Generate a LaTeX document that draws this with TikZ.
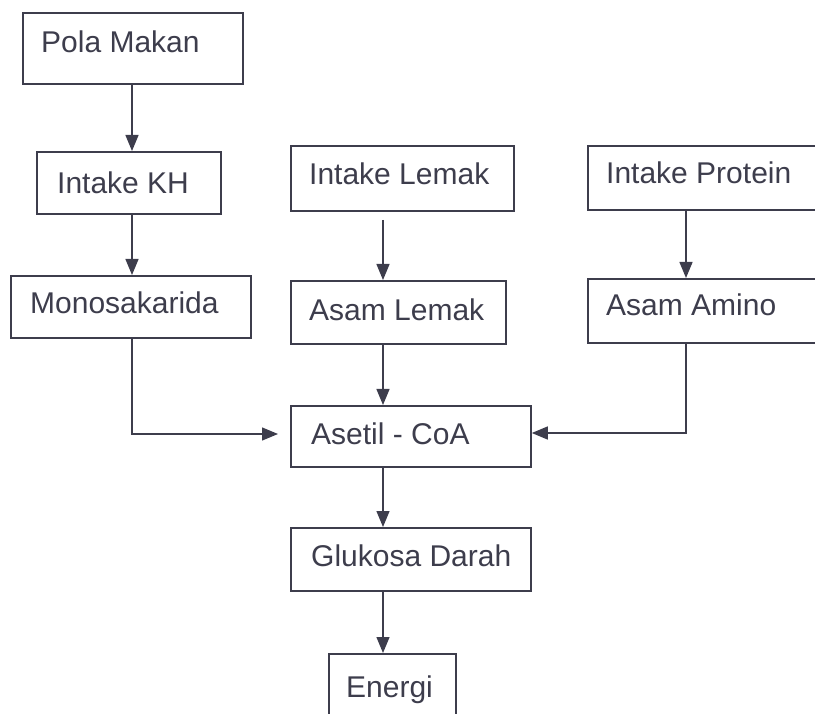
\documentclass[tikz,border=0pt]{standalone}
\usepackage{fontspec}
\setmainfont{Liberation Sans}
\usetikzlibrary{arrows.meta}
\definecolor{ink}{rgb}{0.24,0.24,0.30}
\tikzset{
  box/.style={draw=ink, line width=1.8pt, inner sep=0pt, anchor=north west},
  lbl/.style={anchor=base west, inner sep=0pt, text=ink, font=\fontsize{30}{32}\selectfont},
  conn/.style={draw=ink, line width=1.4pt, -{Triangle[width=13pt,length=16pt]}}
}
\begin{document}
\begin{tikzpicture}[x=1pt,y=-1pt]
\useasboundingbox (0,0) rectangle (815,714);
\clip (0,0) rectangle (815,714);
% boxes
\node[box, minimum width=220, minimum height=71] (pm) at (22,12) {};
\node[box, minimum width=184, minimum height=62] (kh) at (36,151) {};
\node[box, minimum width=240, minimum height=62] (mono) at (10,275) {};
\node[box, minimum width=223, minimum height=65] (il) at (290,145) {};
\node[box, minimum width=215, minimum height=63] (al) at (290,280) {};
\node[box, minimum width=250, minimum height=64] (ip) at (587,145) {};
\node[box, minimum width=250, minimum height=64] (aa) at (587,278) {};
\node[box, minimum width=240, minimum height=61] (ac) at (290,405) {};
\node[box, minimum width=240, minimum height=63] (gd) at (290,527) {};
\node[box, minimum width=127, minimum height=80] (en) at (328,653) {};
% labels
\node[lbl] (tpm) at (41,53) {Pola Makan};
\node[lbl] (tkh) at (57,194) {Intake KH};
\node[lbl] (tmono) at (30,314) {Monosakarida};
\node[lbl] (til) at (309,185) {Intake Lemak};
\node[lbl] (tal) at (309,321) {Asam Lemak};
\node[lbl] (tip) at (606,184) {Intake Protein};
\node[lbl] (taa) at (606,316) {Asam Amino};
\node[lbl] (tac) at (311,445) {Asetil - CoA};
\node[lbl] (tgd) at (311,566) {Glukosa Darah};
\node[lbl] (ten) at (346,697) {Energi};
% connectors
\coordinate (c1) at (132,434);
\coordinate (c2) at (686,433);
\draw[conn] (pm.south -| 132,0) -- (kh.north -| 132,0);
\draw[conn] (kh.south -| 132,0) -- (mono.north -| 132,0);
\draw[conn, shorten <=8pt] (il.south -| 383,0) -- (al.north -| 383,0);
\draw[conn] (ip.south -| 686,0) -- (aa.north -| 686,0);
\draw[conn] (al.south -| 383,0) -- (ac.north -| 383,0);
\draw[conn] (ac.south -| 383,0) -- (gd.north -| 383,0);
\draw[conn] (gd.south -| 383,0) -- (en.north -| 383,0);
\draw[conn, shorten >=12pt] (mono.south -| 132,0) -- (c1) -- (ac.west |- c1);
\draw[conn] (aa.south -| 686,0) -- (c2) -- (ac.east |- c2);
\end{tikzpicture}
\end{document}
